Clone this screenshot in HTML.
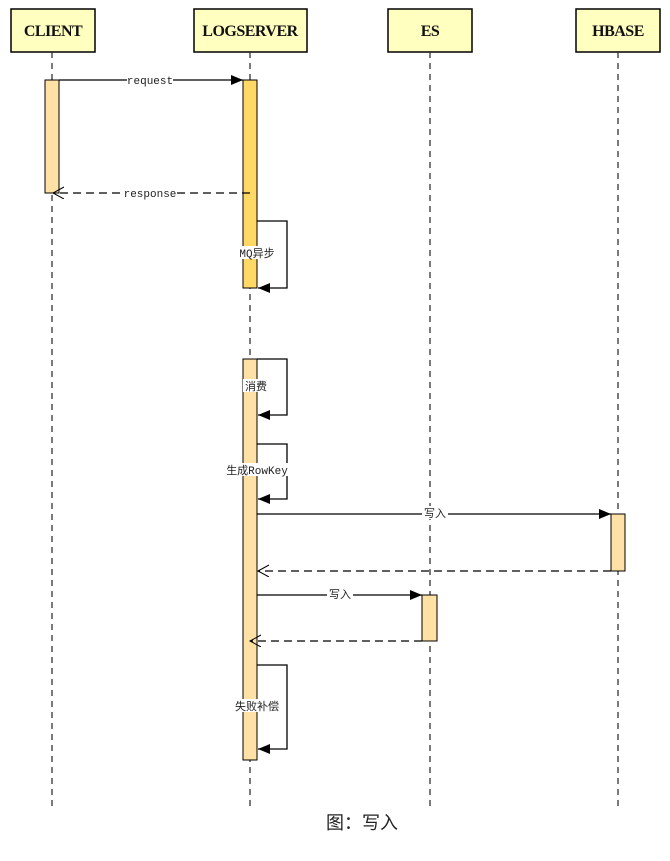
<!DOCTYPE html>
<html><head><meta charset="utf-8"><style>
html,body{margin:0;padding:0;background:#fff;width:670px;height:861px;overflow:hidden}
svg{display:block}
.h{font-family:"Liberation Serif",serif;font-weight:bold;font-size:16px;letter-spacing:-0.5px;fill:#111}
.m{font-family:"Liberation Mono","WenQuanYi Zen Hei",monospace;font-size:11px;fill:#222}
</style></head><body>
<svg width="670" height="861" xmlns="http://www.w3.org/2000/svg">
<defs>
<marker id="f" markerWidth="12" markerHeight="10" refX="12" refY="5" orient="auto" markerUnits="userSpaceOnUse"><path d="M0,0L12,5L0,10z" fill="#000"/></marker>
<marker id="o" markerWidth="13" markerHeight="14" refX="11" refY="6" orient="auto" markerUnits="userSpaceOnUse"><path d="M0,0L11,6L0,12" fill="none" stroke="#000"/></marker>
</defs>
<g stroke="#000" stroke-width="1.5" fill="#ffffc0">
<rect x="11" y="9" width="84" height="43"/>
<rect x="194" y="9" width="113" height="43"/>
<rect x="388" y="9" width="84" height="43"/>
<rect x="576" y="9" width="84" height="43"/>
</g>
<text class="h" x="53" y="36" text-anchor="middle">CLIENT</text>
<text class="h" x="250" y="36" text-anchor="middle">LOGSERVER</text>
<text class="h" x="430" y="36" text-anchor="middle">ES</text>
<text class="h" x="618" y="36" text-anchor="middle">HBASE</text>
<g stroke="#333" stroke-width="1.3" stroke-dasharray="6,5">
<line x1="52" y1="52" x2="52" y2="806"/>
<line x1="250" y1="52" x2="250" y2="806"/>
<line x1="430" y1="52" x2="430" y2="806"/>
<line x1="618" y1="52" x2="618" y2="806"/>
</g>
<g stroke="#000" stroke-width="1">
<rect x="45" y="80" width="14" height="113" fill="#ffe0a5"/>
<rect x="243" y="80" width="14" height="208" fill="#ffd966"/>
<rect x="243" y="359" width="14" height="401" fill="#ffe0a5"/>
<rect x="611" y="514" width="14" height="57" fill="#ffe0a5"/>
<rect x="422" y="595" width="15" height="46" fill="#ffe0a5"/>
</g>
<g stroke="#000" stroke-width="1.3" fill="none">
<line x1="59" y1="80" x2="243" y2="80" marker-end="url(#f)"/>
<line x1="250" y1="193" x2="53" y2="193" stroke-dasharray="8,5" marker-end="url(#o)"/>
<path d="M257,221H287V288H258" marker-end="url(#f)"/>
<path d="M257,359H287V415H258" marker-end="url(#f)"/>
<path d="M257,444H287V499H258" marker-end="url(#f)"/>
<line x1="257" y1="514" x2="611" y2="514" marker-end="url(#f)"/>
<line x1="611" y1="571" x2="258" y2="571" stroke-dasharray="8,5" marker-end="url(#o)"/>
<line x1="257" y1="595" x2="422" y2="595" marker-end="url(#f)"/>
<line x1="422" y1="641" x2="250" y2="641" stroke-dasharray="8,5" marker-end="url(#o)"/>
<path d="M257,665H287V749H258" marker-end="url(#f)"/>
</g>
<g class="m" text-anchor="middle">
<rect x="127" y="74" width="46" height="12" fill="#fff"/><text x="150" y="84">request</text>
<rect x="122" y="187" width="55" height="12" fill="#fff"/><text x="150" y="197">response</text>
<rect x="236" y="246" width="42" height="13" fill="#fff"/><text x="257" y="257">MQ异步</text>
<rect x="243" y="379" width="26" height="13" fill="#fff"/><text x="256" y="390">消费</text>
<rect x="224" y="463" width="66" height="13" fill="#fff"/><text x="257" y="474">生成RowKey</text>
<rect x="422" y="506" width="26" height="13" fill="#fff"/><text x="435" y="517">写入</text>
<rect x="327" y="587" width="26" height="13" fill="#fff"/><text x="340" y="598">写入</text>
<rect x="231" y="699" width="52" height="13" fill="#fff"/><text x="257" y="710">失败补偿</text>
</g>
<text x="362" y="829" text-anchor="middle" style="font-family:'Liberation Sans','Noto Sans CJK SC',sans-serif;font-size:18px;fill:#222">图：写入</text>
</svg>
</body></html>
